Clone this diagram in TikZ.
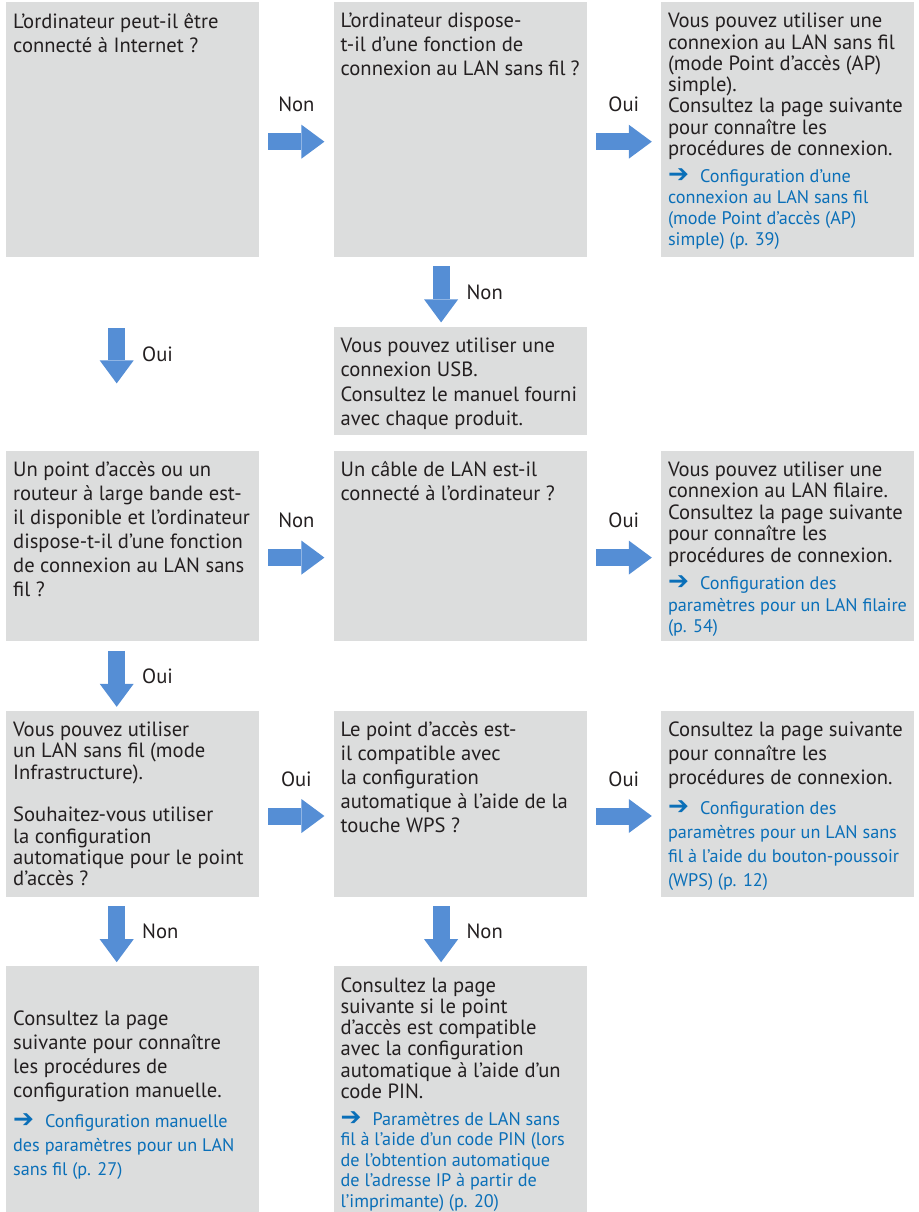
\documentclass[tikz,border=0pt]{standalone}
\usepackage{fontspec}
\setmainfont{PT Sans}
\newfontfamily\arrowfont{DejaVu Sans}
\usetikzlibrary{positioning,arrows.meta}

\definecolor{boxgray}{HTML}{DCDDDD}
\definecolor{flowblue}{HTML}{558ED5}
\definecolor{linkblue}{HTML}{0A6FB8}
\definecolor{txtblack}{HTML}{231F20}

\newcommand{\boxtext}[3][t]{\begin{minipage}[t][#2][#1]{239pt}\raggedright\vspace*{11pt}#3\end{minipage}}
\newcommand{\lnk}[2]{\par\vspace{6pt}{\fontsize{18.2}{#1}\selectfont\color{linkblue}\makebox[32pt][l]{\arrowfont\bfseries\fontsize{25}{#1}\selectfont ➔}#2\par}}

\tikzset{
  box/.style={fill=boxgray, text=txtblack, inner xsep=7pt, inner ysep=0pt, minimum width=253pt, anchor=north west, font=\fontsize{20.6}{24}\selectfont},
  tight/.style={font=\fontsize{20.6}{21.3}\selectfont},
  flow/.style={line width=17pt, flowblue, -{Triangle[width=34pt,length=23pt,line width=0pt]}},
  answer/.style={inner sep=0pt, text=txtblack, font=\fontsize{20.6}{24}\selectfont},
}

\begin{document}
\begin{tikzpicture}[x=1pt, y=1pt]
        \useasboundingbox (0,0) rectangle (918,-1212);

        \node[box, minimum height=255pt] (q1) at (6,-2) {\boxtext{255pt}{L’ordinateur peut-il être\\connecté à Internet ?}};
        \node[box, minimum height=255pt] (q2) [right=74pt of q1] {\boxtext{255pt}{L’ordinateur dispose-\\t-il d’une fonction de\\connexion au LAN sans fil ?}};
        \node[box, tight, minimum height=255pt] (r1) [right=74pt of q2] {\boxtext{255pt}{Vous pouvez utiliser une\\connexion au LAN sans fil\\(mode Point d’accès (AP)\\simple).\\Consultez la page suivante\\pour connaître les\\procédures de connexion.\lnk{21pt}{Configuration d’une\\connexion au LAN sans fil\\(mode Point d’accès (AP)\\simple) (p. 39)}}};

        \node[box, font=\fontsize{20.6}{24.5}\selectfont, minimum height=108pt] (r2) [below=69pt of q2] {\boxtext{108pt}{Vous pouvez utiliser une\\connexion USB.\\Consultez le manuel fourni\\avec chaque produit.}};

        \node[box, minimum height=190pt] (q3) [below=193pt of q1] {\boxtext{190pt}{Un point d’accès ou un\\routeur à large bande est-\\il disponible et l’ordinateur\\dispose-t-il d’une fonction\\de connexion au LAN sans\\fil ?}};
        \node[box, minimum height=190pt] (q4) [right=74pt of q3] {\boxtext{190pt}{Un câble de LAN est-il\\connecté à l’ordinateur ?}};
        \node[box, font=\fontsize{20.6}{21.5}\selectfont, minimum height=190pt] (r3) [right=74pt of q4] {\boxtext{190pt}{Vous pouvez utiliser une\\connexion au LAN filaire.\\Consultez la page suivante\\pour connaître les\\procédures de connexion.\lnk{21.5pt}{Configuration des\\paramètres pour un LAN filaire\\(p. 54)}}};

        \node[box, tight, minimum height=186pt] (q5) [below=70pt of q3] {\boxtext{186pt}{Vous pouvez utiliser\\un LAN sans fil (mode\\Infrastructure).\\[21.3pt]Souhaitez-vous utiliser\\la configuration\\automatique pour le point\\d’accès ?}};
        \node[box, minimum height=186pt] (q6) [right=74pt of q5] {\boxtext{186pt}{Le point d’accès est-\\il compatible avec\\la configuration\\automatique à l’aide de la\\touche WPS ?}};
        \node[box, minimum height=186pt] (r4) [right=74pt of q6] {\boxtext{186pt}{Consultez la page suivante\\pour connaître les\\procédures de connexion.\lnk{24pt}{Configuration des\\paramètres pour un LAN sans\\fil à l’aide du bouton-poussoir\\(WPS) (p. 12)}}};

        \node[box, minimum height=247pt] (r5) [below=69pt of q5] {\boxtext[c]{247pt}{Consultez la page\\suivante pour connaître\\les procédures de\\configuration manuelle.\lnk{24pt}{Configuration manuelle\\des paramètres pour un LAN\\sans fil (p. 27)}}};
        \node[box, tight, minimum height=247pt] (r6) [right=74pt of r5] {\boxtext{247pt}{Consultez la page\\suivante si le point\\d’accès est compatible\\avec la configuration\\automatique à l’aide d’un\\code PIN.\lnk{20.6pt}{Paramètres de LAN sans\\fil à l’aide d’un code PIN (lors\\de l’obtention automatique\\de l’adresse IP à partir de\\l’imprimante) (p. 20)}}};

        \draw[flow, shorten <=9pt, shorten >=9pt] ([yshift=-12pt]q1.east) -- node[answer, midway, yshift=37pt] {Non} ([yshift=-12pt]q2.west);
        \draw[flow, shorten <=9pt, shorten >=9pt] ([yshift=-12pt]q2.east) -- node[answer, midway, yshift=37pt] {Oui} ([yshift=-12pt]r1.west);
        \draw[flow, shorten <=9pt, shorten >=4pt] ([xshift=-19pt]q2.south) -- node[answer, midway, anchor=west, xshift=17pt] {Non} ([xshift=-19pt]r2.north);
        \draw[flow, shorten <=71pt, shorten >=67pt] ([xshift=-16pt]q1.south) -- node[answer, midway, anchor=west, xshift=17pt] {Oui} ([xshift=-16pt]q3.north);
        \draw[flow, shorten <=9pt, shorten >=9pt] ([yshift=-12pt]q3.east) -- node[answer, midway, yshift=37pt] {Non} ([yshift=-12pt]q4.west);
        \draw[flow, shorten <=9pt, shorten >=9pt] ([yshift=-12pt]q4.east) -- node[answer, midway, yshift=37pt] {Oui} ([yshift=-12pt]r3.west);
        \draw[flow, shorten <=10pt, shorten >=4pt] ([xshift=-16pt]q3.south) -- node[answer, midway, anchor=west, xshift=17pt] {Oui} ([xshift=-16pt]q5.north);
        \draw[flow, shorten <=9pt, shorten >=9pt] ([yshift=-12pt]q5.east) -- node[answer, midway, yshift=37pt] {Oui} ([yshift=-12pt]q6.west);
        \draw[flow, shorten <=9pt, shorten >=9pt] ([yshift=-12pt]q6.east) -- node[answer, midway, yshift=37pt] {Oui} ([yshift=-12pt]r4.west);
        \draw[flow, shorten <=9pt, shorten >=4pt] ([xshift=-16pt]q5.south) -- node[answer, midway, anchor=west, xshift=17pt] {Non} ([xshift=-16pt]r5.north);
        \draw[flow, shorten <=9pt, shorten >=4pt] ([xshift=-19pt]q6.south) -- node[answer, midway, anchor=west, xshift=17pt] {Non} ([xshift=-19pt]r6.north);
\end{tikzpicture}
\end{document}
